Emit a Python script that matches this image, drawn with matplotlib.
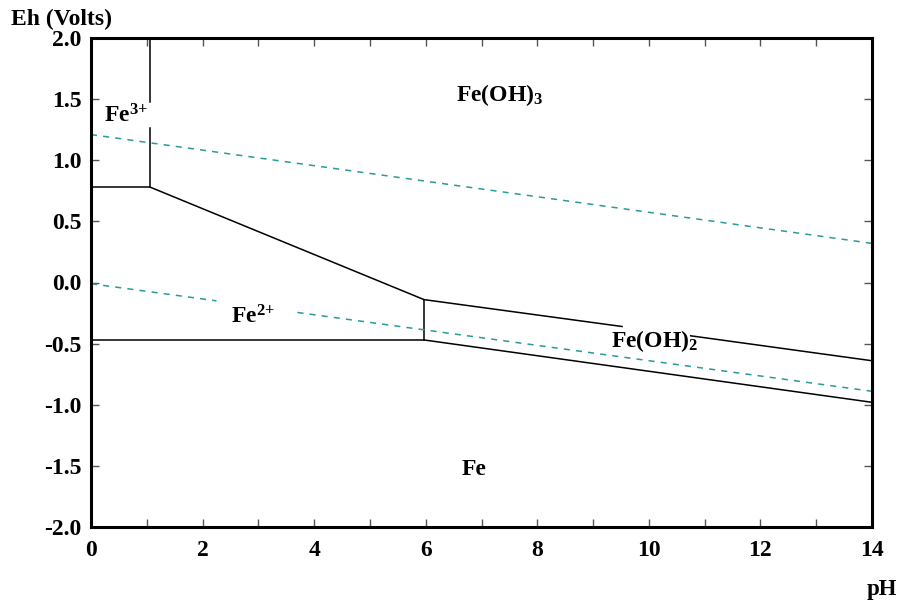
import numpy as np
import matplotlib
matplotlib.use("Agg")
import matplotlib.pyplot as plt

plt.rcParams['font.family'] = 'Liberation Serif'
plt.rcParams['font.weight'] = 'bold'
plt.rcParams['axes.unicode_minus'] = False
plt.rcParams['mathtext.fontset'] = 'custom'
plt.rcParams['mathtext.rm'] = 'Liberation Serif:bold'
plt.rcParams['mathtext.it'] = 'Liberation Serif:bold'
plt.rcParams['mathtext.bf'] = 'Liberation Serif:bold'

# stability field boundaries (pH, Eh)
fe3_fe2_ph = [0, 1.06]
fe3_fe2_eh = [0.78, 0.78]
fe3_feoh3_top_ph = [1.06, 1.06]
fe3_feoh3_top_eh = [2.0, 1.48]
fe3_feoh3_low_ph = [1.06, 1.06]
fe3_feoh3_low_eh = [1.26, 0.78]
feoh3_fe2_ph = [1.06, 5.97]
feoh3_fe2_eh = [0.78, -0.14]
feoh3_feoh2_a_ph = [5.97, 9.52]
feoh3_feoh2_a_eh = [-0.14, -0.36]
feoh3_feoh2_b_ph = [10.75, 14]
feoh3_feoh2_b_eh = [-0.436, -0.64]
fe2_feoh2_ph = [5.97, 5.97]
fe2_feoh2_eh = [-0.47, -0.14]
fe2_fe_ph = [0, 5.97]
fe2_fe_eh = [-0.47, -0.47]
feoh2_fe_ph = [5.97, 14]
feoh2_fe_eh = [-0.47, -0.98]

# water stability limits
o2_ph = [0, 14]
o2_eh = [1.21, 0.32]
h2_a_ph = [0, 2.25]
h2_a_eh = [-0.01, -0.15]
h2_b_ph = [3.7, 14]
h2_b_eh = [-0.245, -0.89]

labels = [
    (0.62, 1.36, r'Fe$^{\rm 3{+}}$'),
    (7.33, 1.53, r'Fe(OH)$_{\rm 3}$'),
    (2.9, -0.28, r'Fe$^{\rm 2{+}}$'),
    (10.1, -0.48, r'Fe(OH)$_{\rm 2}$'),
    (6.86, -1.53, 'Fe'),
]

fig = plt.figure(figsize=(9.01, 6.01), dpi=100)
ax = fig.add_axes([91 / 901, 74 / 601, 781 / 901, 489 / 601])

solid = dict(color='black', lw=1.1)
for xs, ys in [(fe3_fe2_ph, fe3_fe2_eh), (fe3_feoh3_top_ph, fe3_feoh3_top_eh),
               (fe3_feoh3_low_ph, fe3_feoh3_low_eh), (feoh3_fe2_ph, feoh3_fe2_eh),
               (feoh3_feoh2_a_ph, feoh3_feoh2_a_eh), (feoh3_feoh2_b_ph, feoh3_feoh2_b_eh),
               (fe2_feoh2_ph, fe2_feoh2_eh), (fe2_fe_ph, fe2_fe_eh),
               (feoh2_fe_ph, feoh2_fe_eh)]:
    ax.plot(xs, ys, **solid)

dashed = dict(color='#2a9a9a', lw=1.1, dashes=(4, 4))
for xs, ys in [(o2_ph, o2_eh), (h2_a_ph, h2_a_eh), (h2_b_ph, h2_b_eh)]:
    ax.plot(xs, ys, **dashed)

for x, y, s in labels:
    ax.text(x, y, s, ha='center', va='center', fontsize=17, fontweight='bold')

ax.set_xlim(0, 14)
ax.set_ylim(-2, 2)
ax.set_xticks(np.arange(0, 15, 2))
ax.set_xticks(np.arange(0, 15, 1), minor=True)
ax.set_yticks(np.arange(-2, 2.01, 0.5))
ax.set_yticklabels(['%.1f' % v for v in np.arange(-2, 2.01, 0.5)])
ax.tick_params(axis='both', which='both', direction='in', top=True, right=True,
               labelsize=17, pad=7, width=1, color='#555555')
ax.tick_params(axis='x', pad=9)
ax.tick_params(which='major', length=6)
ax.tick_params(which='minor', length=6)
for sp in ax.spines.values():
    sp.set_linewidth(2.2)

fig.text(11 / 901, 1 - 19 / 601, 'Eh (Volts)', ha='left', va='center', fontsize=17, fontweight='bold')
fig.text(882 / 901, 1 - 590 / 601, 'pH', ha='center', va='center', fontsize=16.5, fontweight='bold')

fig.savefig('out.png', dpi=100)
